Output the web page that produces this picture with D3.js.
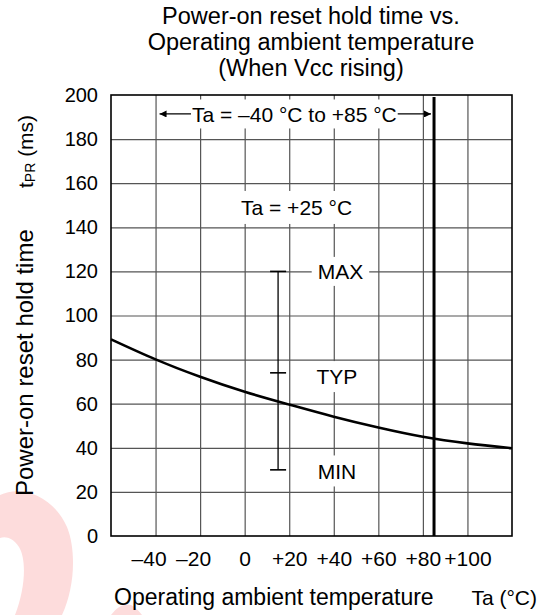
<!DOCTYPE html>
<html>
<head>
<meta charset="utf-8">
<script src="https://cdn.jsdelivr.net/npm/d3@7"></script>
<style>
  html, body { margin: 0; padding: 0; background: #fff; }
  svg { display: block; }
  text { font-family: "Liberation Sans", Arial, Helvetica, sans-serif; fill: #000; }
</style>
</head>
<body>
<script>
// ---- data ----
const temps = [-60, -40, -20, 0, 20, 40, 60, 80, 100, 120];
const holdTimes = [89.2, 80.1, 72.2, 65.4, 59.6, 54.1, 49.2, 45.0, 42.0, 39.8];
const xTicks = [-40, -20, 0, 20, 40, 60, 80, 100];
const xTickLabels = ["\u201340", "\u201320", "0", "+20", "+40", "+60", "+80", "+100"];
const yTicks = [0, 20, 40, 60, 80, 100, 120, 140, 160, 180, 200];
const spreadTemp = [15];
const spreadMin = [30];
const spreadTyp = [74];
const spreadMax = [120];
const rangeLimits = [-40, 85];
const titleLines = ["Power-on reset hold time vs.", "Operating ambient temperature", "(When Vcc rising)"];

const W = 544, H = 615;
const svg = d3.select("body").append("svg").attr("width", W).attr("height", H);

// watermark (decorative)
const wm = svg.append("g").attr("fill", "#fddcdc");
wm.append("path").attr("d", "M0,495 C22,484 54,497 67,527 C77,552 74,590 62,615 L15,615 C25,590 27,560 19,547 C13,538 6,536 0,538 Z");
wm.append("path").attr("d", "M111,615 C117,607 124,603 131,605 C135,607 139,611 142,615 Z");

const x = d3.scaleLinear().domain([-60, 120]).range([111, 512]);
const y = d3.scaleLinear().domain([0, 200]).range([536, 95]);

// grid
const grid = svg.append("g");
grid.append("g").attr("transform", `translate(0,${y(0)})`)
  .call(d3.axisBottom(x).tickValues(xTicks).tickSize(-(y(0) - y(200))).tickFormat(""))
  .call(g => g.select(".domain").remove())
  .call(g => g.selectAll("line").attr("stroke", "#555").attr("stroke-width", 1.2));
grid.append("g").attr("transform", `translate(${x(-60)},0)`)
  .call(d3.axisLeft(y).tickValues(yTicks.filter(v => v > 0 && v < 200)).tickSize(-(x(120) - x(-60))).tickFormat(""))
  .call(g => g.select(".domain").remove())
  .call(g => g.selectAll("line").attr("stroke", "#555").attr("stroke-width", 1.2));

// text boxes (white backgrounds) + labels
const annFont = 21;
function label(txt, cx, cy, padX, padY) {
  const t = svg.append("text").attr("x", cx).attr("y", cy).attr("text-anchor", "middle")
    .attr("dy", "0.36em").attr("font-size", annFont).text(txt);
  const bb = t.node().getBBox();
  svg.insert("rect", () => t.node())
    .attr("x", bb.x - padX).attr("y", cy - annFont / 2 - padY)
    .attr("width", bb.width + 2 * padX).attr("height", annFont + 2 * padY)
    .attr("fill", "#fff");
  return t;
}

// range arrow
const arrowY = y(191.4);
const defs = svg.append("defs");
defs.append("marker").attr("id", "ah").attr("viewBox", "0 0 10 10").attr("refX", 10).attr("refY", 5)
  .attr("markerWidth", 14).attr("markerHeight", 7).attr("markerUnits", "userSpaceOnUse").attr("orient", "auto-start-reverse")
  .append("path").attr("d", "M0,0 L10,5 L0,10 Z").attr("fill", "#000");
svg.append("line").attr("x1", x(rangeLimits[0]) + 4).attr("x2", x(rangeLimits[1]) - 3)
  .attr("y1", arrowY).attr("y2", arrowY).attr("stroke", "#000").attr("stroke-width", 1.2)
  .attr("marker-start", "url(#ah)").attr("marker-end", "url(#ah)");
label("Ta = \u201340 \u00B0C to +85 \u00B0C", x(22.3), arrowY, 1, 4);
label("Ta = +25 \u00B0C", x(23.3), y(149), 4, 6);
label("MAX", x(43), y(120), 6, 4);
label("TYP", x(41.4), y(72.3), 6, 5);
label("MIN", x(41.4), y(29.5), 6, 5);

// plot frame
svg.append("rect").attr("x", x(-60)).attr("y", y(200)).attr("width", x(120) - x(-60)).attr("height", y(0) - y(200))
  .attr("fill", "none").attr("stroke", "#000").attr("stroke-width", 1.6);

// 85 C limit line
svg.append("line").attr("x1", x(rangeLimits[1])).attr("x2", x(rangeLimits[1]))
  .attr("y1", y(200) + 2).attr("y2", y(0)).attr("stroke", "#000").attr("stroke-width", 3);

// spread bar
spreadTemp.forEach((t, i) => {
  const g = svg.append("g").attr("stroke", "#000").attr("stroke-width", 1.3);
  g.append("line").attr("x1", x(t)).attr("x2", x(t)).attr("y1", y(spreadMax[i])).attr("y2", y(spreadMin[i]));
  [spreadMax[i], spreadTyp[i], spreadMin[i]].forEach(v => {
    g.append("line").attr("x1", x(t) - 8).attr("x2", x(t) + 8).attr("y1", y(v)).attr("y2", y(v)).attr("stroke-width", 1.6);
  });
});

// curve
const line = d3.line().x((d, i) => x(temps[i])).y(d => y(d)).curve(d3.curveNatural);
svg.append("path").datum(holdTimes).attr("d", line).attr("fill", "none").attr("stroke", "#000").attr("stroke-width", 2.6);

// axes labels
const yAx = svg.append("g").attr("transform", `translate(98,0)`)
  .call(d3.axisLeft(y).tickValues(yTicks).tickSize(0).tickPadding(0).tickFormat(d3.format("d")));
yAx.select(".domain").remove();
yAx.selectAll("text").attr("font-size", 20).attr("font-family", null).attr("fill", "#000");

const xAx = svg.append("g").attr("transform", `translate(0,551)`)
  .call(d3.axisBottom(x).tickValues(xTicks).tickSize(0).tickPadding(0).tickFormat((d, i) => xTickLabels[i]));
xAx.select(".domain").remove();
xAx.selectAll("text").attr("font-size", 21).attr("font-family", null).attr("fill", "#000")
  .attr("dx", d => (d < 0 ? -7 : 0));

// titles
const title = svg.append("text").attr("text-anchor", "middle").attr("font-size", 23.5);
titleLines.forEach((s, i) => title.append("tspan").attr("x", 311).attr("y", 24 + i * 26).text(s));

svg.append("text").attr("x", 114).attr("y", 605).attr("font-size", 23).text("Operating ambient temperature");
svg.append("text").attr("x", 537).attr("y", 605).attr("text-anchor", "end").attr("font-size", 21).text("Ta (\u00B0C)");

const yl = svg.append("text").attr("transform", "translate(33,496) rotate(-90)").attr("font-size", 24);
yl.append("tspan").text("Power-on reset hold time");
const yl2 = svg.append("text").attr("transform", "translate(33,188) rotate(-90)").attr("font-size", 21);
yl2.append("tspan").text("t");
yl2.append("tspan").attr("font-size", 14).attr("dy", 2).text("PR");
yl2.append("tspan").attr("dy", -2).text(" (ms)");
</script>
</body>
</html>
